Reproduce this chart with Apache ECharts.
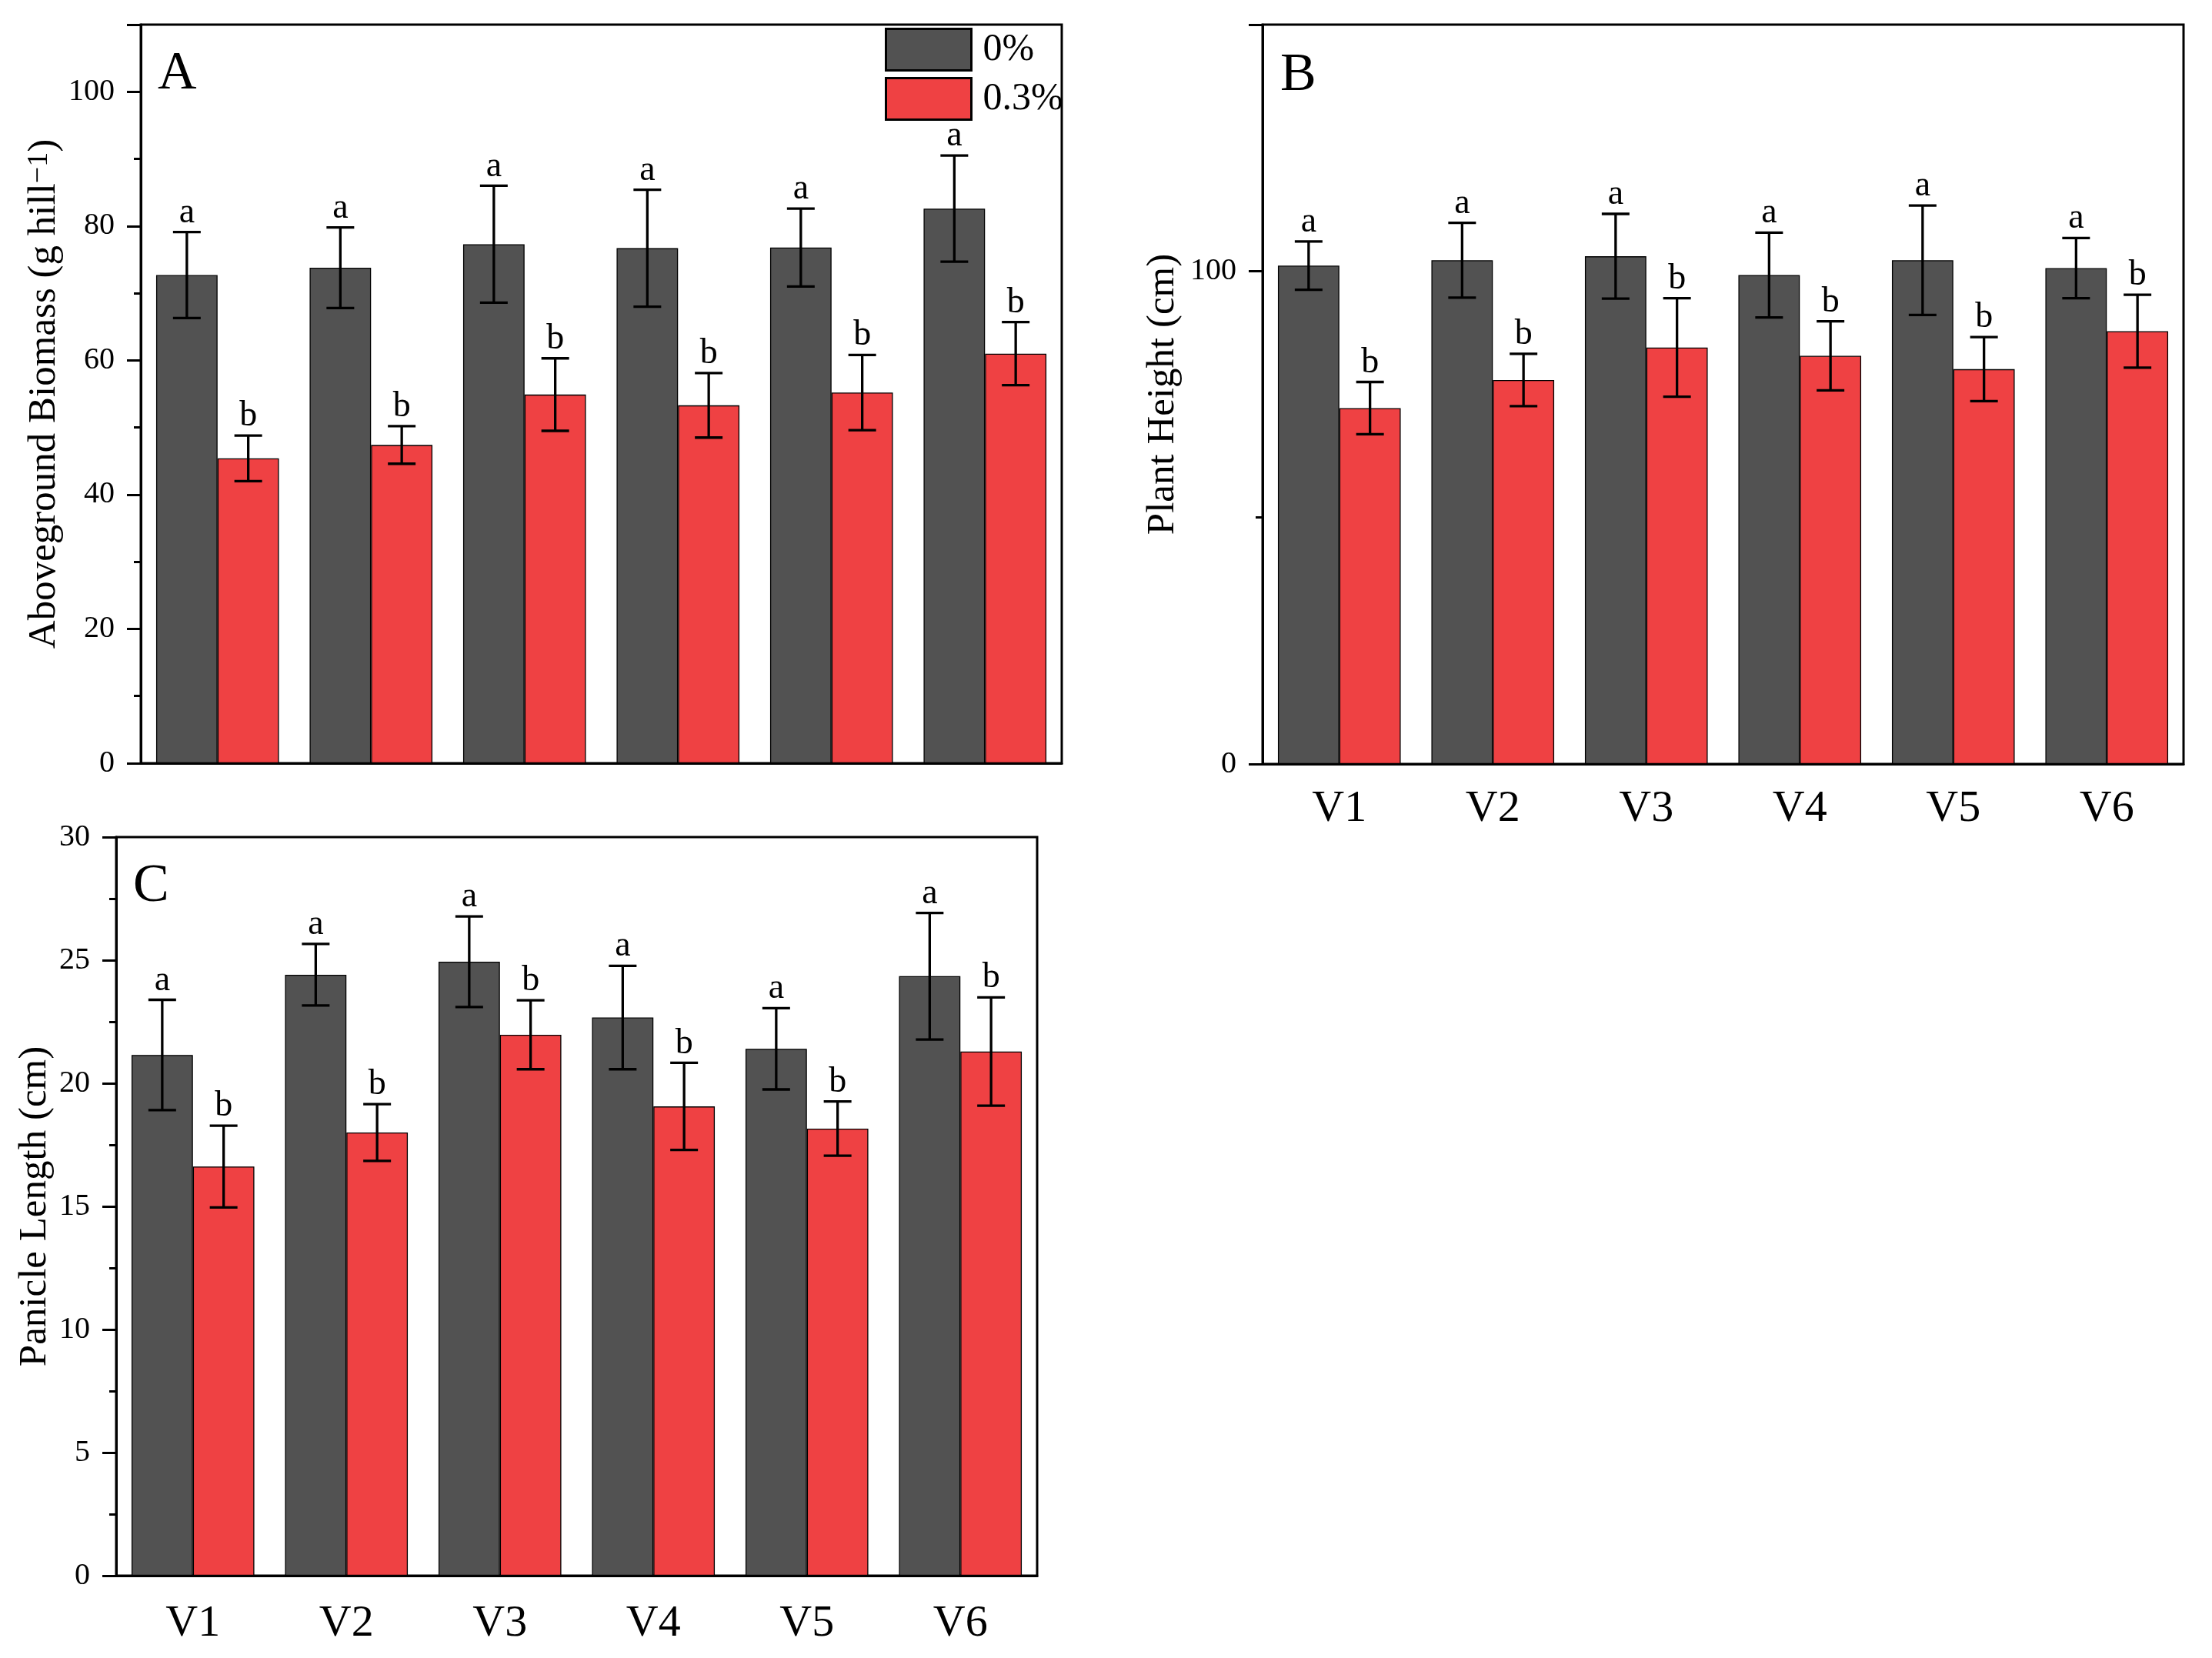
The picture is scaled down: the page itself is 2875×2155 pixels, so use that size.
<!DOCTYPE html>
<html>
<head>
<meta charset="utf-8">
<script src="https://cdn.jsdelivr.net/npm/echarts@6/dist/echarts.min.js"></script>
<style>
  html, body { margin: 0; padding: 0; background: #fff; }
  #main { width: 2875px; height: 2155px; }
</style>
</head>
<body>
<div id="main"></div>
<script>
// varieties
var categories = ['V1', 'V2', 'V3', 'V4', 'V5', 'V6'];

// A - aboveground biomass (g hill-1), mean and error
var biomass0 = [72.7, 73.8, 77.3, 76.7, 76.8, 82.6];
var biomassErr0 = [6.4, 6.0, 8.7, 8.7, 5.8, 7.9];
var biomass3 = [45.4, 47.4, 54.9, 53.3, 55.2, 61.0];
var biomassErr3 = [3.4, 2.8, 5.4, 4.8, 5.6, 4.7];

// B - plant height (cm)
var height0 = [101.1, 102.2, 103.0, 99.2, 102.2, 100.6];
var heightErr0 = [4.9, 7.6, 8.6, 8.6, 11.1, 6.1];
var height3 = [72.2, 77.9, 84.5, 82.8, 80.1, 87.8];
var heightErr3 = [5.3, 5.3, 10.0, 7.0, 6.5, 7.4];

// C - panicle length (cm)
var panicle0 = [21.15, 24.41, 24.94, 22.67, 21.40, 24.35];
var panicleErr0 = [2.24, 1.25, 1.84, 2.10, 1.65, 2.57];
var panicle3 = [16.62, 18.00, 21.97, 19.06, 18.16, 21.29];
var panicleErr3 = [1.66, 1.15, 1.40, 1.77, 1.10, 2.20];

// significance letters
var letters0 = ['a', 'a', 'a', 'a', 'a', 'a'];
var letters3 = ['b', 'b', 'b', 'b', 'b', 'b'];

var FONT = '"Liberation Serif", "Times New Roman", serif';
var darkColor = '#525252';
var redColor = '#EF4143';

var chart = echarts.init(document.getElementById('main'), null, { renderer: 'canvas' });

// error bar + letter, offset is fraction of the category band
function errRenderer(offset, letters) {
  return function (params, api) {
    var i = api.value(0), m = api.value(1), e = api.value(2);
    var band = api.size([1, 0])[0];
    var x = api.coord([i, m])[0] + offset * band;
    var yHi = api.coord([i, m + e])[1];
    var yLo = api.coord([i, m - e])[1];
    var w = 18;
    var st = { stroke: '#000', lineWidth: 3.3 };
    return {
      type: 'group',
      children: [
        { type: 'line', shape: { x1: x, y1: yHi, x2: x, y2: yLo }, style: st },
        { type: 'line', shape: { x1: x - w, y1: yHi, x2: x + w, y2: yHi }, style: st },
        { type: 'line', shape: { x1: x - w, y1: yLo, x2: x + w, y2: yLo }, style: st },
        { type: 'text', style: { text: letters[params.dataIndex], x: x, y: yHi - 2,
            align: 'center', verticalAlign: 'bottom', font: '46px ' + FONT, fill: '#000' } }
      ]
    };
  };
}

function errData(mean, err) {
  var out = [];
  for (var i = 0; i < mean.length; i++) out.push([i, mean[i], err[i]]);
  return out;
}

function xAxisFor(idx, showLabel, margin) {
  return {
    type: 'category', gridIndex: idx, data: categories,
    axisLine: { lineStyle: { color: '#000', width: 3 } },
    axisTick: showLabel
      ? { alignWithLabel: true, length: 18, lineStyle: { color: '#000', width: 3 } }
      : { length: 10, lineStyle: { color: '#000', width: 3 } },
    axisLabel: { show: showLabel, fontSize: 58, fontFamily: FONT, color: '#000', margin: margin },
    splitLine: { show: false }
  };
}

function yAxisFor(idx, max, interval, name, gap, showMax) {
  return {
    type: 'value', gridIndex: idx, min: 0, max: max, interval: interval,
    name: name, nameLocation: 'middle', nameGap: gap,
    nameTextStyle: {
      fontSize: 51, fontFamily: FONT, color: '#000',
      rich: {
        t: { fontSize: 51, fontFamily: FONT, color: '#000' },
        s: { fontSize: 38, fontFamily: FONT, color: '#000', verticalAlign: 'top' }
      }
    },
    axisLine: { show: true, lineStyle: { color: '#000', width: 3 } },
    axisTick: { show: true, length: 18, lineStyle: { color: '#000', width: 3 } },
    minorTick: { show: true, splitNumber: 2, length: 9, lineStyle: { color: '#000', width: 3 } },
    axisLabel: { fontSize: 40, fontFamily: FONT, color: '#000', margin: 34, showMaxLabel: showMax },
    splitLine: { show: false }
  };
}

function barSeries(name, idx, data, color) {
  return {
    name: name, type: 'bar', xAxisIndex: idx, yAxisIndex: idx, data: data,
    barGap: '0%', barCategoryGap: '20%',
    itemStyle: { color: color, borderColor: '#000', borderWidth: 1.3 },
    emphasis: { disabled: true }
  };
}

function errSeries(idx, mean, err, offset, letters) {
  return {
    type: 'custom', xAxisIndex: idx, yAxisIndex: idx, z: 5,
    renderItem: errRenderer(offset, letters),
    data: errData(mean, err), silent: true
  };
}

var option = {
  backgroundColor: '#fff',
  animation: false,
  legend: {
    data: ['0%', '0.3%'], orient: 'vertical', left: 1150, top: 36, padding: 0,
    itemWidth: 111, itemHeight: 54, itemGap: 7, icon: 'rect',
    itemStyle: { borderColor: '#000', borderWidth: 3 },
    textStyle: { fontSize: 50, fontFamily: FONT, color: '#000', padding: [0, 0, 0, 10] }
  },
  grid: [
    { left: 183, top: 32, width: 1197, height: 960, show: true, borderColor: '#000', borderWidth: 3 },
    { left: 1641, top: 32, width: 1197, height: 961, show: true, borderColor: '#000', borderWidth: 3 },
    { left: 151, top: 1088, width: 1197, height: 960, show: true, borderColor: '#000', borderWidth: 3 }
  ],
  xAxis: [xAxisFor(0, false, 24), xAxisFor(1, true, 30), xAxisFor(2, true, 34)],
  yAxis: [
    yAxisFor(0, 110, 20, '{t|Aboveground Biomass (g hill}{s|\u22121}{t|)}', 100, false),
    yAxisFor(1, 150, 100, 'Plant Height (cm)', 104, false),
    yAxisFor(2, 30, 5, 'Panicle Length (cm)', 80, true)
  ],
  graphic: [
    { type: 'text', left: 205, top: 62, style: { text: 'A', font: '70px ' + FONT, fill: '#000' } },
    { type: 'text', left: 1664, top: 64, style: { text: 'B', font: '70px ' + FONT, fill: '#000' } },
    { type: 'text', left: 173, top: 1118, style: { text: 'C', font: '70px ' + FONT, fill: '#000' } }
  ],
  series: [
    barSeries('0%', 0, biomass0, darkColor),
    barSeries('0.3%', 0, biomass3, redColor),
    errSeries(0, biomass0, biomassErr0, -0.2, letters0),
    errSeries(0, biomass3, biomassErr3, 0.2, letters3),

    barSeries('0%', 1, height0, darkColor),
    barSeries('0.3%', 1, height3, redColor),
    errSeries(1, height0, heightErr0, -0.2, letters0),
    errSeries(1, height3, heightErr3, 0.2, letters3),

    barSeries('0%', 2, panicle0, darkColor),
    barSeries('0.3%', 2, panicle3, redColor),
    errSeries(2, panicle0, panicleErr0, -0.2, letters0),
    errSeries(2, panicle3, panicleErr3, 0.2, letters3)
  ]
};

chart.setOption(option);
window.addEventListener('resize', function () { chart.resize(); });
</script>
</body>
</html>
